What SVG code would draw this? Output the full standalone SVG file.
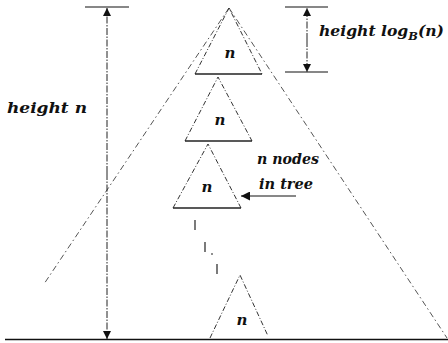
<svg xmlns="http://www.w3.org/2000/svg" width="448" height="343" viewBox="0 0 448 343">
<style>
  .lbl { font-family: "DejaVu Serif", "Liberation Serif", serif; font-weight: bold; font-style: italic; font-size: 15px; fill: #111; }
  .n { font-family: "DejaVu Serif", "Liberation Serif", serif; font-weight: bold; font-style: italic; font-size: 15px; fill: #111; text-anchor: middle; }
  .leg { fill: none; stroke: #333; stroke-width: 1; stroke-dasharray: 5 2 1 2; }
  .base { stroke: #222; stroke-width: 1.3; }
  .big { fill: none; stroke: #555; stroke-width: 1; stroke-dasharray: 6 3 1.5 3; }
  .bar { stroke: #111; stroke-width: 1.2; }
  .dim { stroke: #222; stroke-width: 1; stroke-dasharray: 7 1.5 1.5 1.5; }
  .dots { stroke: #222; stroke-width: 1.2; }
</style>
<defs>
  <marker id="ah" viewBox="0 0 10 10" refX="10" refY="5" markerWidth="10" markerHeight="8" markerUnits="userSpaceOnUse" orient="auto">
    <path d="M0,0 L10,5 L0,10 z" fill="#111"/>
  </marker>
  <marker id="ah2" viewBox="0 0 10 10" refX="10" refY="5" markerWidth="12" markerHeight="9" markerUnits="userSpaceOnUse" orient="auto">
    <path d="M0,0 L10,5 L0,10 z" fill="#111"/>
  </marker>
</defs>

<g id="bigtree">
  <path class="big" d="M229,8 L44,284"/>
  <path class="big" d="M229,8 L447,338"/>
</g>

<g id="tree1">
  <path class="leg" d="M195,74 L229,8 L262,74"/>
  <line class="base" x1="195" y1="74" x2="262" y2="74"/>
  <text class="n" x="230" y="58">n</text>
</g>
<g id="tree2">
  <path class="leg" d="M185,141 L218,77 L252,141"/>
  <line class="base" x1="185" y1="141" x2="252" y2="141"/>
  <text class="n" x="220" y="125">n</text>
</g>
<g id="tree3">
  <path class="leg" d="M173,208 L208,144 L241,208"/>
  <line class="base" x1="173" y1="208" x2="241" y2="208"/>
  <text class="n" x="207" y="192">n</text>
</g>
<g id="tree4">
  <path class="leg" d="M210,338 L240,275 L268,336"/>
  <text class="n" x="242" y="325">n</text>
</g>

<g id="connectors">
  <line class="dots" x1="195" y1="220" x2="195" y2="230"/>
  <line class="dots" x1="205" y1="242" x2="205" y2="252"/>
  <line class="dots" x1="211" y1="254" x2="213" y2="254"/>
  <line class="dots" x1="217" y1="264" x2="217" y2="274"/>
  <line x1="296" y1="196" x2="241" y2="196" stroke="#111" stroke-width="1" marker-end="url(#ah2)"/>
</g>

<g id="dim-left">
  <line class="bar" x1="85" y1="7" x2="129" y2="7"/>
  <line class="dim" x1="107" y1="173" x2="107" y2="8" marker-end="url(#ah)"/>
  <line class="dim" x1="107" y1="173" x2="107" y2="339" marker-end="url(#ah)"/>
  <text class="lbl" x="7" y="113" textLength="80" lengthAdjust="spacingAndGlyphs">height n</text>
</g>

<g id="dim-right">
  <line class="bar" x1="285" y1="7" x2="328" y2="7"/>
  <line class="bar" x1="285" y1="72" x2="328" y2="72"/>
  <line class="dim" x1="307" y1="40" x2="307" y2="8" marker-end="url(#ah)"/>
  <line class="dim" x1="307" y1="40" x2="307" y2="72" marker-end="url(#ah)"/>
  <text class="lbl" x="319" y="36" textLength="125" lengthAdjust="spacingAndGlyphs">height log<tspan font-size="11" dy="4">B</tspan><tspan dy="-4">(n)</tspan></text>
</g>

<g id="label-nodes">
  <text class="lbl" x="257" y="164" textLength="62" lengthAdjust="spacingAndGlyphs">n nodes</text>
  <text class="lbl" x="259" y="189" textLength="54" lengthAdjust="spacingAndGlyphs">in tree</text>
</g>

<line x1="5" y1="339.5" x2="448" y2="339.5" stroke="#111" stroke-width="1.4"/>
</svg>
